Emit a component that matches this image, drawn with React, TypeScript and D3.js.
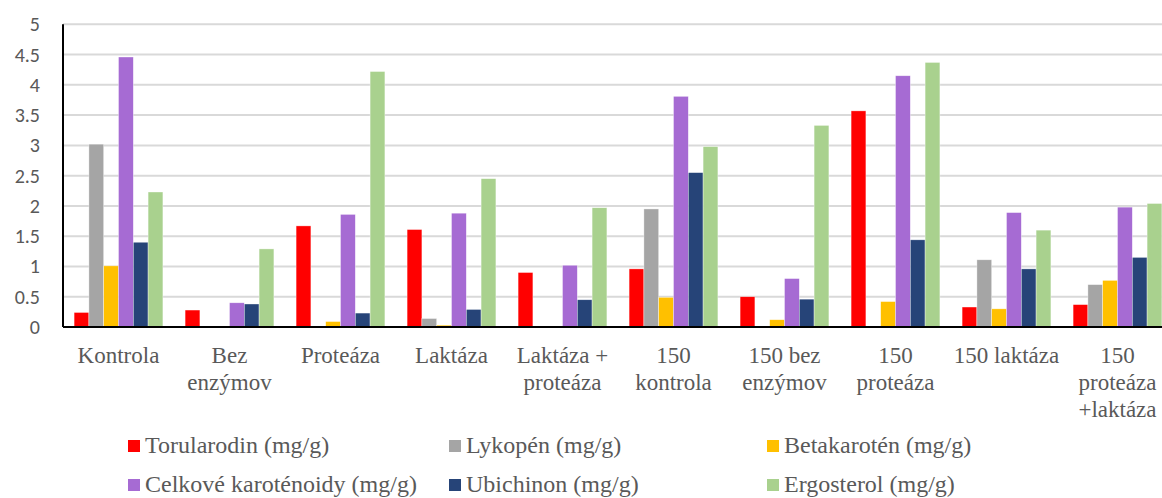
import React from "react";
import * as d3 from "d3";

const categories: string[][] = [
  ["Kontrola"],
  ["Bez", "enzýmov"],
  ["Proteáza"],
  ["Laktáza"],
  ["Laktáza +", "proteáza"],
  ["150", "kontrola"],
  ["150 bez", "enzýmov"],
  ["150", "proteáza"],
  ["150 laktáza"],
  ["150", "proteáza", "+laktáza"],
];

const seriesNames = [
  "Torularodin (mg/g)",
  "Lykopén (mg/g)",
  "Betakarotén (mg/g)",
  "Celkové karoténoidy (mg/g)",
  "Ubichinon (mg/g)",
  "Ergosterol (mg/g)",
];

const seriesColors = ["#FF0000", "#A5A5A5", "#FFC000", "#A66BD3", "#264478", "#A9D18E"];

const torularodin = [0.24, 0.28, 1.67, 1.61, 0.9, 0.96, 0.5, 3.57, 0.33, 0.37];
const lykopen = [3.02, 0.0, 0.0, 0.14, 0.0, 1.95, 0.0, 0.0, 1.11, 0.7];
const betakaroten = [1.01, 0.015, 0.09, 0.03, 0.0, 0.49, 0.12, 0.42, 0.3, 0.77];
const celkove = [4.46, 0.4, 1.86, 1.88, 1.02, 3.81, 0.8, 4.15, 1.89, 1.98];
const ubichinon = [1.4, 0.38, 0.23, 0.29, 0.45, 2.55, 0.46, 1.44, 0.96, 1.15];
const ergosterol = [2.23, 1.29, 4.22, 2.45, 1.97, 2.98, 3.33, 4.37, 1.6, 2.04];

const seriesValues = [torularodin, lykopen, betakaroten, celkove, ubichinon, ergosterol];

const yTicks = [0, 0.5, 1, 1.5, 2, 2.5, 3, 3.5, 4, 4.5, 5];

export default function App() {
  const W = 1162;
  const H = 498;
  const left = 63;
  const top = 24.3;
  const bottom = 327;
  const step = 111;
  const right = left + step * categories.length;

  const y = d3.scaleLinear().domain([0, 5]).range([bottom, top]);
  const x0 = d3
    .scaleBand<number>()
    .domain(d3.range(categories.length))
    .range([left, right])
    .paddingInner(0.2)
    .paddingOuter(0.1);
  const x1 = d3
    .scaleBand<number>()
    .domain(d3.range(seriesNames.length))
    .range([0, x0.bandwidth()]);

  const textColor = "#595959";
  const legendCols = [128, 449, 767];
  const legendRows = [440, 479];

  return (
    <svg
      width={W}
      height={H}
      style={{ position: "absolute", left: 0, top: 0, background: "#fff" }}
    >
      {yTicks.map((t) => (
        <g key={t}>
          {t > 0 && (
            <line x1={left} x2={W} y1={y(t)} y2={y(t)} stroke="#D9D9D9" strokeWidth={2} />
          )}
          <text
            x={40}
            y={y(t)}
            dy="0.35em"
            textAnchor="end"
            fontFamily="Carlito, 'Liberation Sans', Arial, sans-serif"
            fontSize={20}
            fill={textColor}
          >
            {t}
          </text>
        </g>
      ))}
      {seriesValues.map((vals, s) =>
        vals.map((v, i) => (
          <rect
            key={`${s}-${i}`}
            x={(x0(i) as number) + (x1(s) as number)}
            y={y(v)}
            width={x1.bandwidth()}
            height={bottom - y(v)}
            fill={seriesColors[s]}
            stroke="#ffffff"
            strokeWidth={0.6}
            strokeOpacity={0.6}
          />
        ))
      )}
      <line x1={left} x2={left} y1={top} y2={bottom} stroke="#000" strokeWidth={2} />
      <line x1={left} x2={W} y1={bottom} y2={bottom} stroke="#000" strokeWidth={2} />
      {categories.map((lines, i) => (
        <text
          key={i}
          x={(x0(i) as number) + x0.bandwidth() / 2}
          y={363}
          textAnchor="middle"
          fontFamily="'Liberation Serif', 'Times New Roman', serif"
          fontSize={23}
          fill={textColor}
        >
          {lines.map((l, k) => (
            <tspan key={k} x={(x0(i) as number) + x0.bandwidth() / 2} dy={k === 0 ? 0 : 27}>
              {l}
            </tspan>
          ))}
        </text>
      ))}
      {seriesNames.map((name, s) => {
        const col = s % 3;
        const row = Math.floor(s / 3);
        const lx = legendCols[col];
        const ly = legendRows[row];
        return (
          <g key={name}>
            <rect x={lx} y={ly} width={12} height={12} fill={seriesColors[s]} />
            <text
              x={lx + 17}
              y={ly + 13}
              fontFamily="'Liberation Serif', 'Times New Roman', serif"
              fontSize={24}
              fill={textColor}
            >
              {name}
            </text>
          </g>
        );
      })}
    </svg>
  );
}
